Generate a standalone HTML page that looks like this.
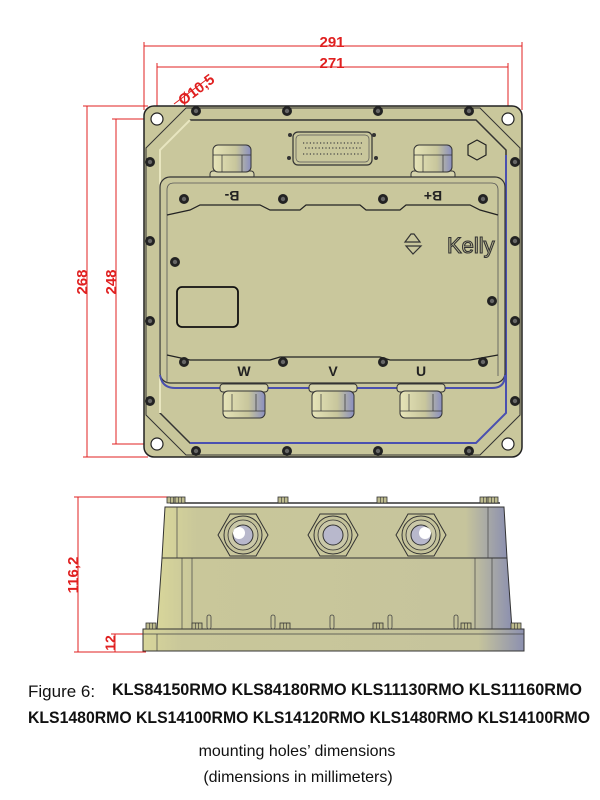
<!DOCTYPE html>
<html><head><meta charset="utf-8"><style>
html,body{margin:0;padding:0;background:#fff;width:600px;height:800px;overflow:hidden}
svg{display:block}
.t{font-family:"Liberation Sans",sans-serif}
</style></head><body>
<svg width="600" height="800" viewBox="0 0 600 800" xmlns="http://www.w3.org/2000/svg">
<defs>
<g id="scr"><circle r="5" fill="#222"/><circle r="2.2" fill="#666"/></g>
<linearGradient id="gl" x1="0" x2="1"><stop offset="0" stop-color="#e6e4b8"/><stop offset="0.6" stop-color="#c8c69c"/><stop offset="1" stop-color="#8a8fc0"/></linearGradient>
<linearGradient id="sd" x1="0" x2="1"><stop offset="0" stop-color="#d8d69a"/><stop offset="0.1" stop-color="#c9c79a"/><stop offset="0.88" stop-color="#c6c49c"/><stop offset="1" stop-color="#8c90b0"/></linearGradient>
<g id="gland"><rect x="-22" y="26" width="44" height="8" rx="3" fill="#d6d4ac" stroke="#333" stroke-width="1"/><rect x="-19" y="0" width="38" height="27" rx="5" fill="url(#gl)" stroke="#333" stroke-width="1"/><line x1="-19" y1="10" x2="19" y2="10" stroke="#333" stroke-width="0.7"/><line x1="-10" y1="10" x2="-10" y2="27" stroke="#333" stroke-width="0.7"/><line x1="10" y1="10" x2="10" y2="27" stroke="#333" stroke-width="0.7"/></g>
<g id="glandB"><rect x="-24" y="0" width="48" height="8" rx="3" fill="#d6d4ac" stroke="#333" stroke-width="1"/><rect x="-21" y="7" width="42" height="27" rx="5" fill="url(#gl)" stroke="#333" stroke-width="1"/><line x1="-21" y1="27" x2="21" y2="27" stroke="#333" stroke-width="0.7"/><line x1="-12" y1="10" x2="-12" y2="27" stroke="#333" stroke-width="0.7"/><line x1="12" y1="10" x2="12" y2="27" stroke="#333" stroke-width="0.7"/></g>
<g id="bolt"><rect x="-5" y="-5" width="10" height="6" fill="#bdbb8e" stroke="#333" stroke-width="0.8"/><line x1="-1.5" y1="-5" x2="-1.5" y2="1" stroke="#333" stroke-width="0.6"/><line x1="1.5" y1="-5" x2="1.5" y2="1" stroke="#333" stroke-width="0.6"/></g>
<g id="hole"><polygon points="-25,0 -13,-21 13,-21 25,0 13,21 -13,21" fill="#c9c79c" stroke="#333" stroke-width="1"/><circle r="19" fill="#c4c29a" stroke="#333" stroke-width="1"/><circle r="15" fill="#cac8a8" stroke="#333" stroke-width="0.8"/><circle r="10" fill="#b8b8cc" stroke="#333" stroke-width="1"/></g>
</defs>

<g stroke="#e02020" stroke-width="1" fill="none">
<line x1="144" y1="46" x2="522" y2="46"/><line x1="144" y1="42" x2="144" y2="110"/><line x1="522" y1="42" x2="522" y2="110"/>
<line x1="157" y1="67" x2="508" y2="67"/><line x1="157" y1="63" x2="157" y2="112"/><line x1="508" y1="63" x2="508" y2="112"/>
<line x1="87" y1="106" x2="87" y2="457"/><line x1="83" y1="106" x2="148" y2="106"/><line x1="83" y1="457" x2="148" y2="457"/>
<line x1="116" y1="119" x2="116" y2="444"/><line x1="112" y1="119" x2="150" y2="119"/><line x1="112" y1="444" x2="150" y2="444"/>
<line x1="174" y1="104" x2="206" y2="80"/><line x1="152" y1="124" x2="162" y2="114"/>
</g>
<g class="t" fill="#e02020" font-weight="bold" font-size="15">
<text x="332" y="47" text-anchor="middle">291</text>
<text x="332" y="68" text-anchor="middle">271</text>
<text transform="translate(183,106) rotate(-37)">Ø10,5</text>
<text transform="translate(87,282) rotate(-90)" text-anchor="middle">268</text>
<text transform="translate(116,282) rotate(-90)" text-anchor="middle">248</text>
<text transform="translate(78,575) rotate(-90)" text-anchor="middle">116,2</text>
<text transform="translate(115,643) rotate(-90)" text-anchor="middle" font-size="14">12</text>
</g>

<rect x="144" y="106" width="378" height="351" rx="10" fill="#c9c79c" stroke="#222" stroke-width="1.5"/>
<polygon points="186,108 480,108 520,148 520,415 480,455 186,455 146,415 146,148" fill="#c8c69b" stroke="#333" stroke-width="1"/>
<polygon points="190,120 476,120 506,150 506,413 476,443 190,443 160,413 160,150" fill="#c9c79c" stroke="#333" stroke-width="1.5"/>
<polyline points="506,155 506,413 476,443 190,443" fill="none" stroke="#4a50b0" stroke-width="2"/>
<polyline points="160,413 160,150 190,120" fill="none" stroke="#e8e6c0" stroke-width="2"/>
<g fill="#fff" stroke="#222" stroke-width="1.2">
<circle cx="157" cy="119" r="6"/><circle cx="508" cy="119" r="6"/><circle cx="157" cy="444" r="6"/><circle cx="508" cy="444" r="6"/>
</g>
<g>
<use href="#scr" x="196" y="111"/><use href="#scr" x="287" y="111"/><use href="#scr" x="378" y="111"/><use href="#scr" x="469" y="111"/>
<use href="#scr" x="196" y="451"/><use href="#scr" x="287" y="451"/><use href="#scr" x="378" y="451"/><use href="#scr" x="469" y="451"/>
<use href="#scr" x="150" y="162"/><use href="#scr" x="150" y="241"/><use href="#scr" x="150" y="321"/><use href="#scr" x="150" y="401"/>
<use href="#scr" x="515" y="162"/><use href="#scr" x="515" y="241"/><use href="#scr" x="515" y="321"/><use href="#scr" x="515" y="401"/>
</g>
<use href="#gland" x="232" y="145"/><use href="#gland" x="433" y="145"/>
<rect x="293" y="132" width="79" height="33" rx="5" fill="#c9c79c" stroke="#333" stroke-width="1.2"/>
<rect x="296" y="135" width="73" height="27" rx="4" fill="none" stroke="#555" stroke-width="0.7"/>
<g fill="#333">
<circle cx="290" cy="135" r="2"/><circle cx="374" cy="135" r="2"/><circle cx="289" cy="158" r="2"/><circle cx="376" cy="158" r="2"/>
</g>
<g stroke="#444" stroke-width="1.2" stroke-dasharray="1.2 2.2">
<line x1="303" y1="143" x2="363" y2="143"/><line x1="305" y1="148" x2="361" y2="148"/><line x1="303" y1="154" x2="363" y2="154"/>
</g>
<polygon points="477,140 486,145 486,155 477,160 468,155 468,145" fill="none" stroke="#222" stroke-width="1.2"/>
<rect x="160" y="177" width="345" height="206" rx="10" fill="#c9c79c" stroke="#333" stroke-width="1.2"/>
<path d="M167,383 L167,190 Q167,183 174,183 L491,183 Q498,183 498,190 L498,376" fill="none" stroke="#555" stroke-width="0.8"/>
<path d="M160,375 Q162,388 175,388 L492,388 Q505,388 505,375" fill="none" stroke="#4a50b0" stroke-width="2"/>
<path d="M167,215 L190,210 L200,205 L260,205 L270,210 L300,210 L306,205 L360,205 L366,210 L400,210 L406,205 L470,205 L480,210 L498,215" fill="none" stroke="#222" stroke-width="1.2"/>
<path d="M167,355 L190,360 L270,360 L280,357 L380,357 L390,360 L470,360 L498,355" fill="none" stroke="#222" stroke-width="1.2"/>
<use href="#scr" x="184" y="199"/><use href="#scr" x="283" y="199"/><use href="#scr" x="383" y="199"/><use href="#scr" x="483" y="199"/>
<use href="#scr" x="184" y="362"/><use href="#scr" x="283" y="362"/><use href="#scr" x="383" y="362"/><use href="#scr" x="483" y="362"/>
<use href="#scr" x="175" y="262"/><use href="#scr" x="492" y="301"/>
<rect x="177" y="287" width="61" height="40" rx="5" fill="none" stroke="#111" stroke-width="1.8"/>
<g class="t" font-family="Liberation Serif,serif" font-weight="bold" font-size="14" fill="#222" text-anchor="middle">
<text x="232" y="203" transform="rotate(180 232 197)">B-</text>
<text x="433" y="203" transform="rotate(180 433 197)">B+</text>
<text x="244" y="376">W</text><text x="333" y="376">V</text><text x="421" y="376">U</text>
</g>
<g fill="none" stroke="#333" stroke-width="1.2"><path d="M405,242 L420,242 L414,234 L411,234 Z"/><path d="M406,246 L421,246 L413,254 Z"/></g>
<text x="447" y="253" font-family="Liberation Sans Narrow,Liberation Sans,sans-serif" font-size="22" fill="#c9c79c" stroke="#333" stroke-width="1.1">Kelly</text>
<use href="#glandB" x="244" y="384"/><use href="#glandB" x="333" y="384"/><use href="#glandB" x="421" y="384"/>

<g stroke="#e02020" stroke-width="1">
<line x1="78" y1="497" x2="78" y2="652"/><line x1="74" y1="497" x2="170" y2="497"/><line x1="74" y1="652" x2="146" y2="652"/>
<line x1="115" y1="634" x2="115" y2="652"/><line x1="111" y1="634" x2="146" y2="634"/>
</g>
<rect x="143" y="629" width="381" height="22" fill="url(#sd)" stroke="#333" stroke-width="1"/>
<line x1="157" y1="634" x2="157" y2="651" stroke="#444" stroke-width="0.7"/><line x1="143" y1="634" x2="524" y2="634" stroke="#444" stroke-width="0.7"/>
<polygon points="162,558 507,558 512,629 157,629" fill="url(#sd)" stroke="#333" stroke-width="1"/>
<line x1="192" y1="558" x2="192" y2="629" stroke="#444" stroke-width="0.7"/><line x1="182" y1="558" x2="182" y2="629" stroke="#444" stroke-width="0.7"/>
<line x1="475" y1="558" x2="475" y2="629" stroke="#444" stroke-width="0.7"/><line x1="492" y1="558" x2="492" y2="629" stroke="#444" stroke-width="0.7"/>
<polygon points="165,507 504,507 507,558 162,558" fill="url(#sd)" stroke="#333" stroke-width="1"/>
<line x1="177" y1="507" x2="177" y2="558" stroke="#444" stroke-width="0.7"/><line x1="488" y1="507" x2="488" y2="558" stroke="#444" stroke-width="0.7"/>
<line x1="170" y1="503" x2="500" y2="503" stroke="#333" stroke-width="1.5"/>
<use href="#hole" x="243" y="535"/><use href="#hole" x="333" y="535"/><use href="#hole" x="421" y="535"/>
<circle cx="239" cy="533" r="6" fill="#fff"/><circle cx="425" cy="533" r="6" fill="#fff"/>
<g fill="none" stroke="#444" stroke-width="0.8">
<rect x="207" y="615" width="4" height="14" rx="2"/><rect x="271" y="615" width="4" height="14" rx="2"/><rect x="330" y="615" width="4" height="14" rx="2"/><rect x="388" y="615" width="4" height="14" rx="2"/><rect x="454" y="615" width="4" height="14" rx="2"/>
</g>
<use href="#bolt" x="172" y="502"/><use href="#bolt" x="180" y="502"/><use href="#bolt" x="283" y="502"/><use href="#bolt" x="382" y="502"/><use href="#bolt" x="485" y="502"/><use href="#bolt" x="493" y="502"/>
<use href="#bolt" x="151" y="628"/><use href="#bolt" x="197" y="628"/><use href="#bolt" x="285" y="628"/><use href="#bolt" x="378" y="628"/><use href="#bolt" x="466" y="628"/><use href="#bolt" x="516" y="628"/>

<g font-family="Liberation Sans Narrow,Liberation Sans,sans-serif" fill="#111">
<text x="28" y="697" font-size="17">Figure 6:</text>
<text x="112" y="695" font-size="17" font-weight="bold" textLength="470" lengthAdjust="spacingAndGlyphs">KLS84150RMO KLS84180RMO KLS11130RMO KLS11160RMO</text>
<text x="28" y="723" font-size="17" font-weight="bold" textLength="562" lengthAdjust="spacingAndGlyphs">KLS1480RMO KLS14100RMO KLS14120RMO KLS1480RMO KLS14100RMO</text>
<text x="297" y="756" font-size="16" text-anchor="middle">mounting holes’ dimensions</text>
<text x="298" y="782" font-size="16" text-anchor="middle">(dimensions in millimeters)</text>
</g>
</svg>
</body></html>
